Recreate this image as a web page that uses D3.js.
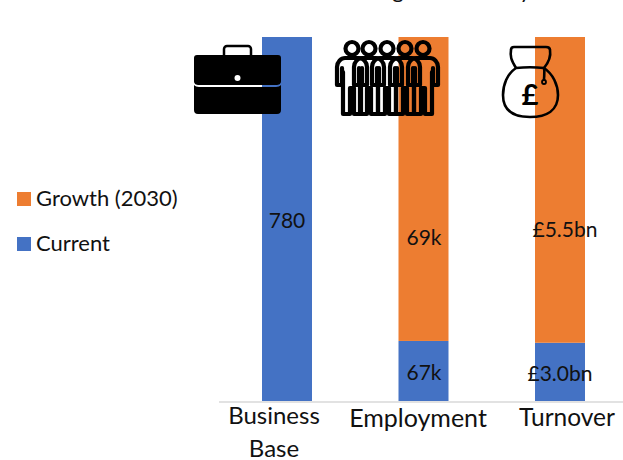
<!DOCTYPE html>
<html><head><meta charset="utf-8">
<script src="https://cdn.jsdelivr.net/npm/d3@7"></script>
<style>html,body{margin:0;padding:0;background:#fff}svg{display:block}text{font-family:Lato,"Open Sans",sans-serif;fill:#111}</style>
</head><body><svg id="c" width="623" height="460"></svg>
<script>
const categories=["Business Base","Employment","Turnover"];
const currentShare=[100,16.5,16];
const growthShare=[0,83.5,84];
const currentLabels=["780","67k","£3.0bn"];
const growthLabels=["","69k","£5.5bn"];
const seriesNames=["Growth (2030)","Current"];
const titleText="Target Growth by 2030";
const colors={current:"#4472C4",growth:"#ED7D31"};
const svg=d3.select("#c");
const x=d3.scalePoint().domain(categories).range([287,560]);
const y=d3.scaleLinear().domain([0,100]).range([401,37]);
const bw=50;
const rows=categories.map((c,i)=>({c,cur:currentShare[i],gr:growthShare[i],cl:currentLabels[i],gl:growthLabels[i]}));
svg.selectAll(".cur").data(rows).join("rect").attr("x",d=>x(d.c)-bw/2).attr("width",bw).attr("y",d=>y(d.cur)).attr("height",d=>y(0)-y(d.cur)).attr("fill",colors.current);
svg.selectAll(".gr").data(rows.filter(d=>d.gr>0)).join("rect").attr("x",d=>x(d.c)-bw/2).attr("width",bw).attr("y",d=>y(d.cur+d.gr)).attr("height",d=>y(d.cur)-y(d.cur+d.gr)).attr("fill",colors.growth);
svg.append("line").attr("x1",219).attr("x2",623).attr("y1",402).attr("y2",402).attr("stroke","#d9d9d9").attr("stroke-width",1.5);
const labelY=[[228,380,381],[0,245,237]];
const labelX=[[287,424,560],[0,424,565]];
rows.forEach((d,i)=>{
 svg.append("text").attr("x",labelX[0][i]).attr("y",labelY[0][i]).attr("text-anchor","middle").attr("font-size",21).text(d.cl);
 if(d.gl)svg.append("text").attr("x",labelX[1][i]).attr("y",labelY[1][i]).attr("text-anchor","middle").attr("font-size",21).text(d.gl);
});
[["Business",274,424,24],["Base",274,457,24],["Employment",418,427,25],["Turnover",567,426,24.5]].forEach(([t,tx,ty,fs])=>
 svg.append("text").attr("x",tx).attr("y",ty).attr("text-anchor","middle").attr("font-size",fs).text(t));
seriesNames.forEach((n,i)=>{
 const ly=[199,244][i];
 svg.append("rect").attr("x",17).attr("y",ly-7).attr("width",14).attr("height",14).attr("fill",i?colors.current:colors.growth);
 svg.append("text").attr("x",36).attr("y",ly+7).attr("font-size",22).text(n);
});
svg.append("text").attr("x",475).attr("y",-2).attr("text-anchor","middle").attr("font-size",22).text(titleText);
// briefcase
const b=svg.append("g");
b.append("path").attr("d","M224 55V49a3 3 0 0 1 3-3H248a3 3 0 0 1 3 3V55").attr("fill","none").attr("stroke","#000").attr("stroke-width",2.5);
b.append("path").attr("d","M197 55H278a3 3 0 0 1 3 3V81c0 3-2 4-5 4H199c-3 0-5-1-5-4V58a3 3 0 0 1 3-3Z").attr("fill","#000");
b.append("path").attr("d","M194 85c1 1 3 2 5 2H276c2 0 4-1 5-2V110a4 4 0 0 1-4 4H198a4 4 0 0 1-4-4Z").attr("fill","#000");
b.append("circle").attr("cx",237.5).attr("cy",78).attr("r",3).attr("fill","#fff");
// people
[352,369,387,405,423].forEach(px=>{
 const g=svg.append("g").attr("transform",`translate(${px},0)`).attr("fill","none").attr("stroke","#000").attr("stroke-width",4.2).attr("stroke-linejoin","round").attr("stroke-linecap","round");
 g.append("circle").attr("cy",48.5).attr("r",6.5);
 g.append("path").attr("d","M-7 58H7C11 58 15 62 15 67V85H10V68M-10 68V85H-15V67C-15 62 -11 58 -7 58M-9 72V114H-2V88H2V114H9V72");
});
// money bag
const m=svg.append("g").attr("fill","none").attr("stroke","#000").attr("stroke-width",2.6);
m.append("path").attr("d","M516 68C511 60 510 56 511 50C511 48 512 47 514 47H546C549 47 550 48 550 50C551 56 549 62 544 68");
m.append("path").attr("d","M516 68C507 74 503 85 503 95C503 110 513 117 530 117C547 117 558 110 558 95C558 85 553 74 544 68C535 67 525 67 516 68Z");
m.append("path").attr("d","M544 68C545 72 544 76 544 80");
m.append("circle").attr("cx",544).attr("cy",82).attr("r",2).attr("stroke-width",1.8);
svg.append("text").attr("x",530).attr("y",105).attr("text-anchor","middle").attr("font-size",29).attr("font-weight",700).attr("style","fill:#000").text("£");
</script></body></html>
